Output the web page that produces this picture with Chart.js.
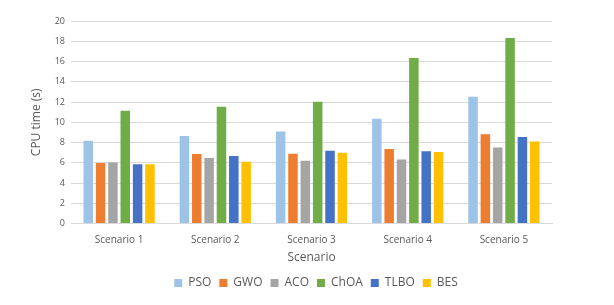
<!DOCTYPE html>
<html>
<head>
<meta charset="utf-8">
<script src="https://cdn.jsdelivr.net/npm/chart.js@4/dist/chart.umd.min.js"></script>
<style>
  html, body { margin: 0; padding: 0; background: #fff; }
  #wrap { width: 614px; height: 305px; }
</style>
</head>
<body>
<div id="wrap"><canvas id="cpu_chart"></canvas></div>
<script>
const scenarios = ["Scenario 1", "Scenario 2", "Scenario 3", "Scenario 4", "Scenario 5"]
const algoNames = ["PSO", "GWO", "ACO", "ChOA", "TLBO", "BES"]

const pso = [8.18, 8.64, 9.10, 10.34, 12.51]
const gwo = [5.98, 6.86, 6.90, 7.36, 8.83]
const aco = [6.04, 6.47, 6.21, 6.34, 7.52]
const choa = [11.13, 11.53, 12.02, 16.35, 18.33]
const tlbo = [5.85, 6.67, 7.19, 7.13, 8.54]
const bes = [5.85, 6.11, 7.00, 7.06, 8.11]

const barColors = ['#9DC3E6', '#ED7D31', '#A5A5A5', '#70AD47', '#4472C4', '#FFC000']
const allValues = [pso, gwo, aco, choa, tlbo, bes]

const textGray = '#595959'
Chart.defaults.font.family = "'Open Sans', 'Noto Sans', sans-serif"

const chartSection = document.querySelector("#cpu_chart")

new Chart(chartSection, {
  type: "bar",
  data: {
    labels: scenarios,
    datasets: algoNames.map((name, i) => ({
      label: name,
      data: allValues[i],
      backgroundColor: barColors[i],
      categoryPercentage: 0.77,
      barPercentage: 0.77
    }))
  },
  options: {
    responsive: true,
    maintainAspectRatio: false,
    animation: false,
    layout: { padding: { left: 18, right: 0, top: 21, bottom: 6 } },
    plugins: {
      legend: {
        position: "bottom",
        labels: {
          boxWidth: 8,
          boxHeight: 8,
          padding: 8,
          color: textGray,
          font: { size: 12 }
        }
      },
      tooltip: { enabled: false }
    },
    scales: {
      x: {
        grid: { display: false },
        border: { display: true, color: '#d9d9d9' },
        ticks: { color: textGray, font: { size: 10 }, padding: 3 },
        title: { display: true, text: "Scenario", color: textGray, font: { size: 12 }, padding: { top: 1, bottom: 4 } }
      },
      y: {
        min: 0,
        max: 20,
        afterFit: (scale) => { scale.width = 53 },
        ticks: { stepSize: 2, color: textGray, font: { size: 9 }, padding: 6 },
        grid: { color: '#d9d9d9', drawTicks: false },
        border: { display: false },
        title: { display: true, text: "CPU time (s)", color: textGray, font: { size: 12 }, padding: { top: 11, bottom: 0 } }
      },
      yRight: {
        position: "right",
        afterFit: (scale) => { scale.width = 62 },
        ticks: { display: false },
        grid: { display: false },
        border: { display: false }
      }
    }
  }
})
</script>
</body>
</html>
